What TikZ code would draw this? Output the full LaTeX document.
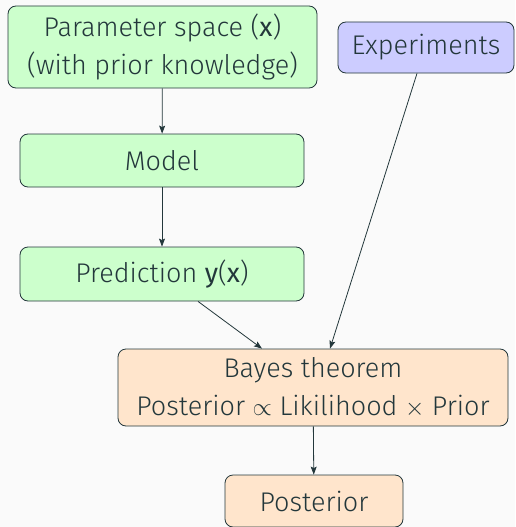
\documentclass[tikz,border=0pt]{standalone}
\usepackage{fontspec}
\setmainfont{Fira Sans}[UprightFont=* Light, BoldFont=*]
\usepackage{xcolor}
\usetikzlibrary{shapes, positioning, arrows.meta}

\definecolor{mDark}{HTML}{23373B}
\definecolor{mBack}{HTML}{FAFAFA}
\definecolor{boxGreen}{HTML}{CCFFCC}
\definecolor{boxBlue}{HTML}{CCCCFF}
\definecolor{boxPeach}{HTML}{FFE5CC}

\tikzset{
    block/.style={draw=mDark, rounded corners=8pt, line width=0.8pt, align=center,
        text=mDark, font=\fontsize{27}{38}\selectfont, inner sep=0pt},
    greenbox/.style={block, fill=boxGreen},
    bluebox/.style={block, fill=boxBlue},
    peachbox/.style={block, fill=boxPeach},
}

\begin{document}
\begin{tikzpicture}[x=1pt, y=-1pt, >={Stealth[length=8pt, width=6pt, inset=1.5pt]}, line width=0.8pt]
        \fill[mBack] (0,0) rectangle (515,527);
        \useasboundingbox (0,0) rectangle (515,527);

        \node[greenbox, minimum width=309pt, minimum height=82pt] (param) at (162.5, 47) {Parameter space (\textbf{x})\\(with prior knowledge)};
        \node[bluebox, minimum width=176pt, minimum height=51pt] (exp) at (426, 47.5) {Experiments};
        \node[greenbox, minimum width=284pt, minimum height=53pt] (model) at (162, 160.5) {Model};
        \node[greenbox, minimum width=284pt, minimum height=54pt] (pred) at (162, 274) {Prediction \textbf{y}(\textbf{x})};
        \node[peachbox, minimum width=390pt, minimum height=77pt] (bayes) at (313, 387.5) {Bayes theorem\\Posterior $\propto$ Likilihood $\times$ Prior};
        \node[peachbox, minimum width=178pt, minimum height=52pt] (post) at (314, 501) {Posterior};

        \draw[->, mDark] (param) to (model);
        \draw[->, mDark] (model) to (pred);
        \draw[->, mDark] ([xshift=36pt]pred.south) to ([xshift=-51pt]bayes.north);
        \draw[->, mDark] ([xshift=-9pt]exp.south) to ([xshift=17pt]bayes.north);
        \draw[->, mDark] (bayes) to (post);
    \end{tikzpicture}
\end{document}
